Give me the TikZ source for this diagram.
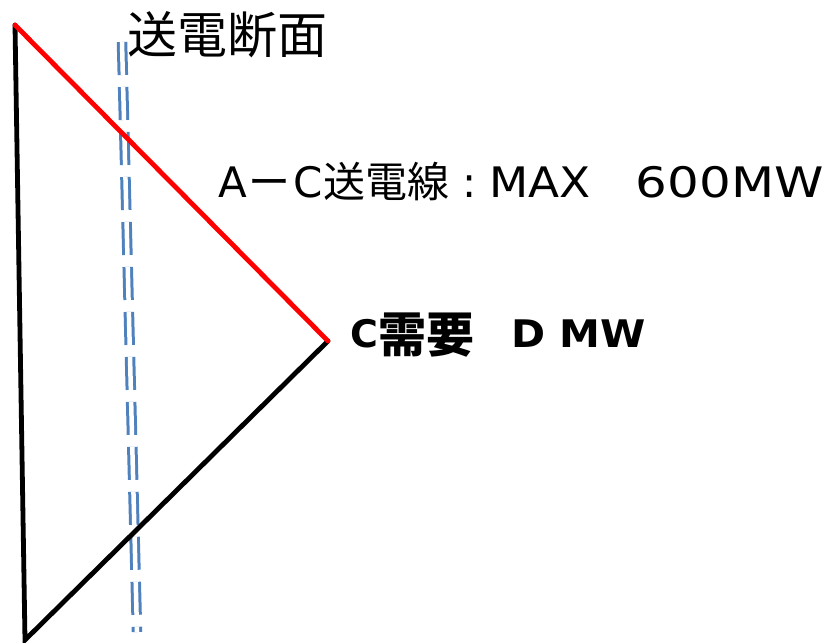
\documentclass[tikz,border=0pt]{standalone}
\usepackage{graphicx}
\usepackage{fontspec}
\setmainfont{Noto Sans CJK JP}
\newfontfamily\cjk{Noto Sans CJK JP}
\newfontfamily\dv{DejaVu Sans}
\definecolor{cutblue}{RGB}{79,129,189}
\definecolor{linered}{RGB}{255,0,0}
\begin{document}
\begin{tikzpicture}[x=1pt,y=-1pt,
  edge/.style={line width=4.8pt,line join=miter,line cap=round},
  cutline/.style={draw=cutblue,line width=3pt,double=white,double distance=4.5pt,dash pattern=on 33pt off 12pt},
  lbl/.style={inner sep=0pt,anchor=base west}]
\useasboundingbox (0,0) rectangle (829,642);
\coordinate (A) at (15,25);
\coordinate (B) at (25,640);
\coordinate (C) at (328,341);
\coordinate (ct) at (122,42);
\coordinate (cb) at (137,632);
\draw[cutline] (ct) -- (cb);
\draw[edge,black] (A) -- (B) -- (C);
\draw[edge,linered] (A) -- (C);
\node[lbl] (sec) at (127,54) {\fontsize{50}{52}\selectfont\cjk 送電断面};
\node[lbl] (ac) at (218,197) {\fontsize{42}{44}\selectfont
  {\dv A}\hspace{2pt}{\cjk ー}\hspace{3pt}{\dv C}{\cjk 送電線}\hspace{13pt}{\dv :}\hspace{13pt}\scalebox{1.08}[1]{\dv MAX}\hspace{45pt}\scalebox{1.19}[1]{\dv 600MW}};
\node[lbl] (dem) at (350,347) {\fontsize{38}{40}\selectfont\bfseries
  {\dv C}\raisebox{-5pt}{\fontsize{48}{50}\selectfont\cjk 需要}\hspace{37pt}\scalebox{1.08}[1]{\dv D MW}};
\end{tikzpicture}
\end{document}
